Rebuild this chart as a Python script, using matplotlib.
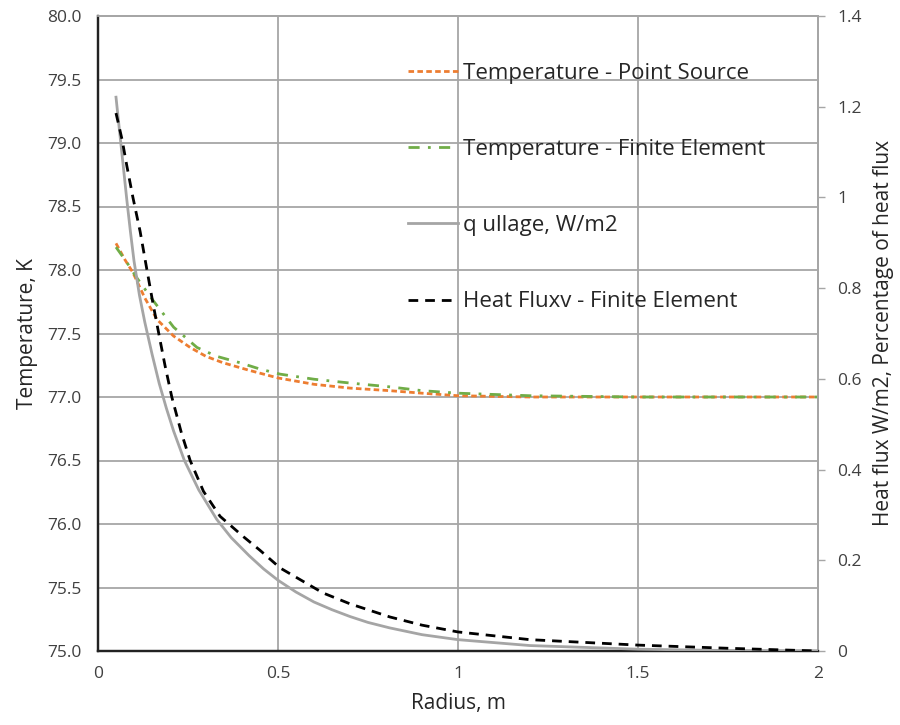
import matplotlib
matplotlib.use("Agg")
import matplotlib.pyplot as plt
from matplotlib.ticker import FormatStrFormatter, FuncFormatter

plt.rcParams['font.family'] = ['Open Sans', 'DejaVu Sans']

# Temperature - point source (left axis, K)
r_ps = [0.05, 0.075, 0.097, 0.13, 0.164, 0.21, 0.256, 0.3, 0.347, 0.42, 0.5, 0.6, 0.7, 0.81, 0.9, 1.0, 1.2, 1.5, 1.75, 2.0]
t_ps = [78.21, 78.08, 77.98, 77.78, 77.61, 77.48, 77.39, 77.32, 77.27, 77.21, 77.15, 77.10, 77.07, 77.05, 77.03, 77.01, 77.0, 77.0, 77.0, 77.0]

# Temperature - finite element (left axis, K)
r_fe = [0.05, 0.08, 0.11, 0.153, 0.21, 0.275, 0.33, 0.394, 0.45, 0.506, 0.6, 0.7, 0.81, 0.9, 1.0, 1.2, 1.5, 1.75, 2.0]
t_fe = [78.18, 78.06, 77.93, 77.76, 77.55, 77.39, 77.32, 77.27, 77.22, 77.18, 77.14, 77.11, 77.08, 77.05, 77.03, 77.01, 77.0, 77.0, 77.0]

# q ullage (right axis, W/m2)
r_q = [0.05, 0.06, 0.07, 0.08, 0.09, 0.1, 0.115, 0.13, 0.15, 0.17, 0.19, 0.21, 0.24, 0.28, 0.33, 0.37, 0.42, 0.46, 0.5, 0.55, 0.6, 0.65, 0.7, 0.75, 0.81, 0.9, 1.0, 1.2, 1.5, 1.75, 2.0]
q_ull = [1.221, 1.145, 1.07, 0.995, 0.925, 0.86, 0.785, 0.725, 0.655, 0.59, 0.535, 0.485, 0.42, 0.355, 0.29, 0.25, 0.21, 0.181, 0.156, 0.13, 0.108, 0.091, 0.076, 0.063, 0.051, 0.036, 0.025, 0.012, 0.004, 0.001, 0.0]

# Heat flux - finite element (right axis)
r_hf = [0.05, 0.067, 0.08, 0.097, 0.117, 0.136, 0.153, 0.17, 0.186, 0.205, 0.232, 0.256, 0.293, 0.339, 0.404, 0.45, 0.506, 0.625, 0.7, 0.811, 0.9, 1.0, 1.2, 1.5, 1.75, 2.0]
q_hf = [1.186, 1.127, 1.07, 1.0, 0.925, 0.84, 0.765, 0.695, 0.63, 0.56, 0.48, 0.42, 0.352, 0.297, 0.252, 0.222, 0.183, 0.128, 0.104, 0.075, 0.057, 0.042, 0.025, 0.013, 0.006, 0.0]

x_ticks = [0, 0.5, 1, 1.5, 2]
x_labels = ['0', '0.5', '1', '1.5', '2']

fig = plt.figure(figsize=(9, 7.25), dpi=100)
ax = fig.add_axes([98 / 900, 1 - 651 / 725, 720 / 900, 635 / 725])
ax2 = ax.twinx()

grid_c = '#a6a6a6'
l1, = ax.plot(r_ps, t_ps, color='#ED7D31', lw=2, linestyle=(0, (2, 1.2)),
              label='Temperature - Point Source', zorder=3)
l2, = ax.plot(r_fe, t_fe, color='#70AD47', lw=2, linestyle=(0, (4, 3, 1, 3)),
              label='Temperature - Finite Element', zorder=3)
l3, = ax2.plot(r_q, q_ull, color='#A5A5A5', lw=2, linestyle='-',
               label='q ullage, W/m2', zorder=3)
l4, = ax2.plot(r_hf, q_hf, color='black', lw=2, linestyle=(0, (3.5, 2.5)),
               label='Heat Fluxv - Finite Element', zorder=3)

ax.set_xlim(0, 2)
ax.set_ylim(75, 80)
ax2.set_ylim(0, 1.4)
ax.set_xticks(x_ticks)
ax.set_xticklabels(x_labels)
ax.set_yticks([75 + 0.5 * i for i in range(11)])
ax.yaxis.set_major_formatter(FormatStrFormatter('%.1f'))
ax2.set_yticks([0.2 * i for i in range(8)])
ax2.yaxis.set_major_formatter(FuncFormatter(lambda v, p: ('%g' % round(v, 1))))

ax.grid(True, color=grid_c, lw=1.3)
ax.set_axisbelow(True)
for a in (ax, ax2):
    a.spines['top'].set_color(grid_c)
    a.spines['right'].set_color(grid_c)
    a.spines['left'].set_color('#222222')
    a.spines['bottom'].set_color('#222222')
    a.spines['left'].set_linewidth(1.6)
    a.spines['bottom'].set_linewidth(1.6)
    a.spines['top'].set_linewidth(1.3)
    a.spines['right'].set_linewidth(1.3)
ax.tick_params(axis='x', length=0, labelsize=12.5, labelcolor='#404040', pad=11)
ax.tick_params(axis='y', length=0, labelsize=12.5, labelcolor='#404040', pad=12)
ax2.tick_params(axis='y', length=5, width=1, color=grid_c, direction='out',
                labelsize=12.5, labelcolor='#404040', pad=9)

ax.set_xlabel('Radius, m', fontsize=15, color='#262626', labelpad=8)
ax.set_ylabel('Temperature, K', fontsize=15, color='#262626', labelpad=6)
ax2.set_ylabel('Heat flux W/m2, Percentage of heat flux', fontsize=15, color='#262626', labelpad=8)

leg = ax2.legend(handles=[l1, l2, l3, l4], loc='upper left',
                 bbox_to_anchor=(408 / 900, 1 - 63 / 725), bbox_transform=fig.transFigure,
                 frameon=False, fontsize=16, handlelength=2.25, handletextpad=0.22,
                 labelspacing=2.48, borderpad=0, borderaxespad=0)
for t in leg.get_texts():
    t.set_color('#262626')

fig.savefig('out.png', dpi=100)
